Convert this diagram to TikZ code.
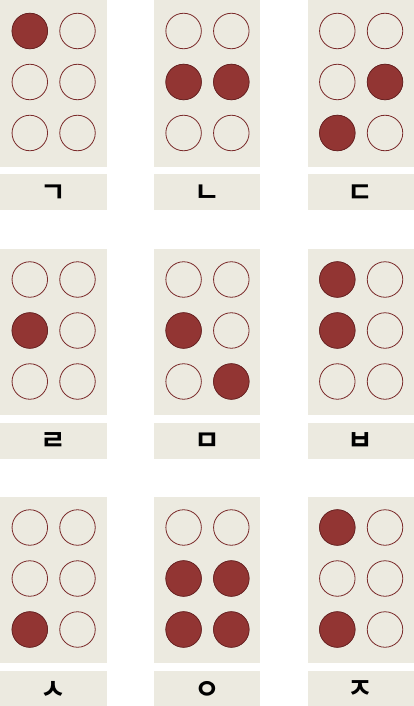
\documentclass[tikz,border=0pt]{standalone}
\usepackage{fontspec}
\newfontfamily\kofont{Noto Sans CJK KR Bold}
\definecolor{panelbg}{HTML}{ECEAE0}
\definecolor{dotred}{HTML}{923533}
\definecolor{dotline}{HTML}{7A2A2A}
\tikzset{
  panelbox/.style={fill=panelbg, draw=none},
  emptydot/.style={circle, draw=dotline, line width=0.8pt, fill=none, minimum size=35.5pt, inner sep=0pt},
  fulldot/.style={circle, draw=dotline!80!black, line width=0.6pt, fill=dotred, minimum size=35.5pt, inner sep=0pt},
  lettertext/.style={font=\kofont\fontsize{28}{28}\selectfont, text=black, inner sep=0pt}
}
% #1 name, #2 x, #3 y, #4 label, #5 list of filled dots
\newcommand{\braillecell}[5]{%
  \fill[panelbox] (#2,#3) rectangle ++(106.5,166.5);
  \fill[panelbox] (#2,#3+174) rectangle ++(106.5,36);
  \foreach \d in {1,...,6}{%
    \pgfmathtruncatemacro{\col}{\d>3 ? 1 : 0}%
    \pgfmathtruncatemacro{\row}{mod(\d-1,3)}%
    \node[emptydot] (#1-\d) at (#2+29.8+47.7*\col, #3+31+51*\row) {};
  }
  \foreach \d in {#5}{%
    \node[fulldot] at (#1-\d) {};
  }
  \node[lettertext] (#1-label) at (#2+53.2,#3+193.5) {#4};
}
\begin{document}
\begin{tikzpicture}[x=1pt,y=-1pt]
\useasboundingbox (0,0) rectangle (414,706);
\fill[white] (0,0) rectangle (414,706);
\braillecell{g}{0}{0}{ㄱ}{1}
\braillecell{n}{153.8}{0}{ㄴ}{2,5}
\braillecell{d}{307.5}{0}{ㄷ}{5,3}
\braillecell{r}{0}{248.5}{ㄹ}{2}
\braillecell{m}{153.8}{248.5}{ㅁ}{2,6}
\braillecell{b}{307.5}{248.5}{ㅂ}{1,2}
\braillecell{s}{0}{496.5}{ㅅ}{3}
\braillecell{ng}{153.8}{496.5}{ㅇ}{2,5,3,6}
\braillecell{j}{307.5}{496.5}{ㅈ}{1,3}
\end{tikzpicture}
\end{document}
